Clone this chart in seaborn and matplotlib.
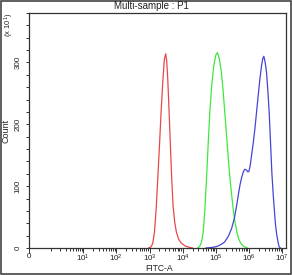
import numpy as np
import pandas as pd
import matplotlib
matplotlib.use('Agg')
import matplotlib.pyplot as plt
import seaborn as sns
from matplotlib.ticker import FixedLocator, FixedFormatter
from matplotlib.patches import Rectangle

# curves: x in decades (log10 FITC-A), y in counts (x10)
red_log = [2.97, 3.05, 3.10, 3.15, 3.20, 3.25, 3.30, 3.35, 3.40, 3.45, 3.49, 3.52, 3.55, 3.59,
           3.63, 3.67, 3.71, 3.76, 3.81, 3.88, 3.96, 4.08, 4.21, 4.30]
red_count = [0, 2, 8, 26, 62, 113, 165, 220, 268, 306, 314, 302, 274, 222,
             166, 112, 69, 42, 26, 14, 8, 3, 1, 0]
green_log = [4.45, 4.52, 4.57, 4.62, 4.67, 4.72, 4.77, 4.82, 4.88, 4.94, 5.00, 5.05, 5.11, 5.17,
             5.22, 5.27, 5.32, 5.37, 5.42, 5.48, 5.53, 5.58, 5.63, 5.68, 5.75, 5.83, 5.95]
green_count = [0, 3, 10, 26, 62, 112, 168, 220, 265, 295, 312, 316, 305, 284,
               255, 220, 185, 150, 117, 85, 60, 42, 27, 16, 8, 3, 0]
blue_log = [4.70, 4.90, 5.00, 5.10, 5.20, 5.27, 5.38, 5.48, 5.56, 5.63, 5.68, 5.73, 5.78, 5.83,
            5.87, 5.90, 5.94, 5.97, 6.00, 6.04, 6.08, 6.13, 6.18, 6.23, 6.28, 6.33, 6.38, 6.42,
            6.45, 6.49, 6.53, 6.57, 6.61, 6.65, 6.69, 6.73, 6.77, 6.80, 6.84, 6.88, 6.91, 6.95]
blue_count = [0, 1, 2, 4, 7, 10, 19, 32, 48, 69, 86, 102, 114, 123,
              127, 127, 125, 123, 124, 134, 150, 170, 193, 220, 247, 273, 295, 307,
              310, 300, 284, 255, 220, 172, 123, 88, 59, 38, 21, 9, 2, 0]

x_major = [0, 10, 100, 1e3, 1e4, 1e5, 1e6, 1e7]
x_labels = ['0', '$10^1$', '$10^2$', '$10^3$', '$10^4$', '$10^5$', '$10^6$', '$10^7$']
y_major = [0, 100, 200, 300]
y_labels = ['0', '100', '200', '300']

sns.set_style('white')
plt.rcParams['font.family'] = ['Liberation Sans', 'DejaVu Sans']
plt.rcParams['mathtext.fontset'] = 'custom'
plt.rcParams['mathtext.rm'] = 'Liberation Sans'
plt.rcParams['mathtext.it'] = 'Liberation Sans'

fig = plt.figure(figsize=(2.92, 2.75), dpi=100)
ax = fig.add_axes([0.0993, 0.0982, 0.8797, 0.8545])

for lg, cnt, col in [(red_log, red_count, '#e8474a'),
                     (green_log, green_count, '#3fe83f'),
                     (blue_log, blue_count, '#4545d6')]:
    df = pd.DataFrame({'x': np.power(10.0, lg), 'y': cnt})
    sns.lineplot(data=df, x='x', y='y', ax=ax, color=col, linewidth=0.9,
                 sort=False, estimator=None)

ax.set_xscale('asinh', linear_width=0.463)
ax.set_xlim(0, 1.3e7)
ax.set_ylim(0, 380)

minor_x = [k * 10.0 ** d for d in range(0, 7) for k in range(1, 10) if not (k == 1 and d > 0)]
ax.xaxis.set_major_locator(FixedLocator(x_major))
ax.xaxis.set_major_formatter(FixedFormatter(x_labels))
ax.xaxis.set_minor_locator(FixedLocator(minor_x))
ax.yaxis.set_major_locator(FixedLocator(y_major))
ax.yaxis.set_major_formatter(FixedFormatter(y_labels))
ax.yaxis.set_minor_locator(FixedLocator(list(range(0, 381, 20))))

ax.tick_params(axis='both', which='both', direction='out', colors='#333333',
               labelcolor='#222222', labelsize=5.8, width=0.7)
ax.tick_params(axis='x', which='major', length=3.5, pad=0)
ax.tick_params(axis='x', which='minor', length=2)
ax.tick_params(axis='y', which='major', length=2.5, pad=3)
ax.tick_params(axis='y', which='minor', length=2.5)
ax.tick_params(left=True, bottom=True, which='both')
for lbl in ax.get_yticklabels():
    lbl.set_rotation(90)
    lbl.set_va('center')

for sp in ax.spines.values():
    sp.set_color('#333333')
    sp.set_linewidth(0.9)

ax.set_xlabel('')
ax.set_ylabel('Count', fontsize=6.5, labelpad=3)
fig.text(0.545, 0.008, 'FITC-A', fontsize=6.2, ha='center', va='bottom', color='#222222')
fig.text(0.52, 0.978, 'Multi-sample : P1', fontsize=7, ha='center', va='center',
         color='#222222')
fig.text(0.008, 0.909, '(x 10$^1$)', rotation=90, fontsize=5.5, ha='left', va='center',
         color='#222222')

fig.patches.append(Rectangle((0.002, 0.002), 0.994, 0.994, transform=fig.transFigure,
                             fill=False, edgecolor='#444444', linewidth=1.2))

fig.savefig('out.png', dpi=100)
